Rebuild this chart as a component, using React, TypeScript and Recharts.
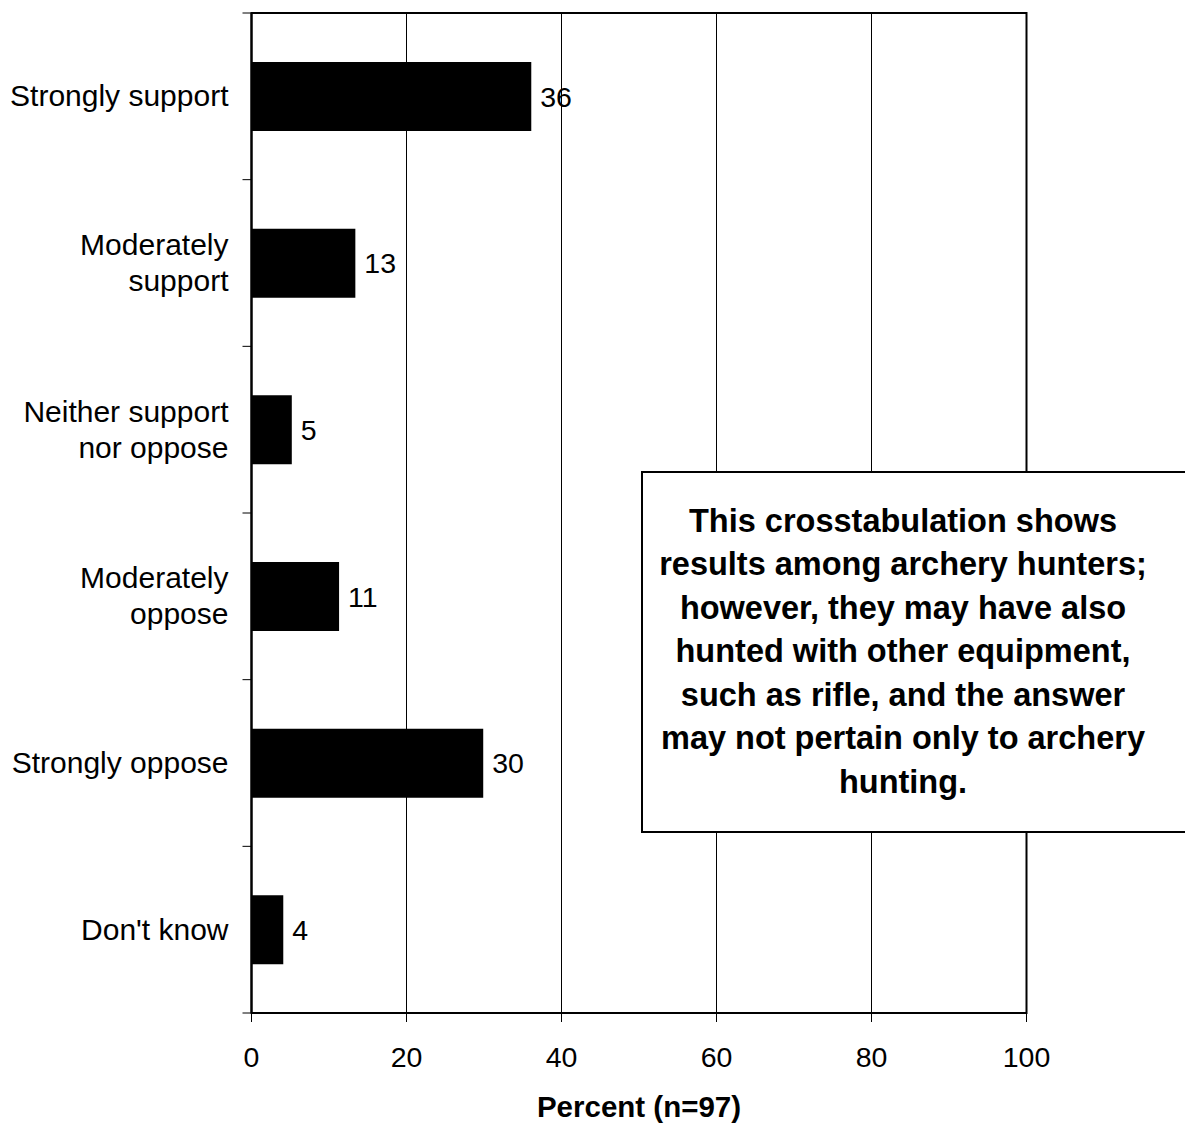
import React from 'react'
import { BarChart, Bar, XAxis, YAxis, CartesianGrid, LabelList, ReferenceArea } from 'recharts'

const categories = [
  'Strongly support',
  'Moderately\nsupport',
  'Neither support\nnor oppose',
  'Moderately\noppose',
  'Strongly oppose',
  "Don't know",
]
// percent of n=97 respondents
const percents = [36.1, 13.4, 5.2, 11.3, 29.9, 4.1]
const xTicks = [0, 20, 40, 60, 80, 100]
const axisTitle = 'Percent (n=97)'
const noteLines = [
  'This crosstabulation shows',
  'results among archery hunters;',
  'however, they may have also',
  'hunted with other equipment,',
  'such as rifle, and the answer',
  'may not pertain only to archery',
  'hunting.',
]

const data = categories.map((category, i) => ({ category, percent: percents[i] }))

const FONT = '"Liberation Sans", Arial, sans-serif'
const W = 1185
const H = 1123
const M = { top: 13, right: 158.5, bottom: 0, left: 0.5 }
const X_AXIS_H = 110
const BAND = (H - M.top - M.bottom - X_AXIS_H) / categories.length

const CategoryTick = (props: any) => {
  const { x, y, payload, index } = props
  const lines = String(payload.value).split('\n')
  const lh = 36
  const axisX = x + 23
  const last = index === categories.length - 1
  return (
    <g>
      <line x1={axisX - 9} x2={axisX} y1={y - BAND / 2} y2={y - BAND / 2} stroke="#000" />
      {last && <line x1={axisX - 9} x2={axisX} y1={y + BAND / 2} y2={y + BAND / 2} stroke="#000" />}
      <text x={x} y={y} textAnchor="end" fontSize={30} fontFamily={FONT} fill="#000">
        {lines.map((line, i) => (
          <tspan key={i} x={x} dy={i === 0 ? -((lines.length - 1) * lh) / 2 + 10 : lh}>
            {line}
          </tspan>
        ))}
      </text>
    </g>
  )
}

export default function App() {
  return (
    <div style={{ position: 'absolute', left: 0, top: 0, width: W, height: H, overflow: 'hidden', background: '#fff' }}>
      <BarChart width={W} height={H} data={data} layout="vertical" margin={M}>
        <CartesianGrid horizontal={false} stroke="#000" strokeWidth={1} />
        <XAxis
          type="number"
          domain={[0, 100]}
          ticks={xTicks}
          height={X_AXIS_H}
          stroke="#000"
          axisLine={{ stroke: '#000', strokeWidth: 2 }}
          tickLine={{ stroke: '#000' }}
          tickSize={9}
          tickMargin={25}
          tick={{ fontSize: 28.5, fontFamily: FONT, fill: '#000' }}
          label={{ value: axisTitle, position: 'insideBottom', offset: 6, fontSize: 29.5, fontWeight: 'bold', fontFamily: FONT, fill: '#000' }}
        />
        <YAxis
          type="category"
          dataKey="category"
          width={251}
          tickLine={false}
          tickSize={0}
          tickMargin={23}
          axisLine={{ stroke: '#000', strokeWidth: 2 }}
          tick={<CategoryTick />}
        />
        <ReferenceArea x1={0} x2={100} fill="none" stroke="#000" strokeWidth={2} ifOverflow="visible" />
        <Bar dataKey="percent" fill="#000" barSize={69} isAnimationActive={false}>
          <LabelList
            dataKey="percent"
            position="right"
            offset={9}
            formatter={(v: any) => Math.round(Number(v))}
            style={{ fontSize: 28.5, fontFamily: FONT, fill: '#000' }}
          />
        </Bar>
      </BarChart>
      <div
        style={{
          position: 'absolute',
          left: 641,
          top: 471,
          width: 600,
          height: 362,
          boxSizing: 'border-box',
          border: '2px solid #000',
          background: '#fff',
        }}
      >
        <div
          style={{
            position: 'absolute',
            left: 0,
            width: 520,
            top: 0,
            bottom: 0,
            display: 'flex',
            flexDirection: 'column',
            justifyContent: 'center',
            alignItems: 'center',
            fontFamily: FONT,
            fontWeight: 'bold',
            fontSize: 32.5,
            lineHeight: '43.5px',
            color: '#000',
          }}
        >
          {noteLines.map((l, i) => (
            <div key={i} style={{ whiteSpace: 'nowrap' }}>{l}</div>
          ))}
        </div>
      </div>
    </div>
  )
}
